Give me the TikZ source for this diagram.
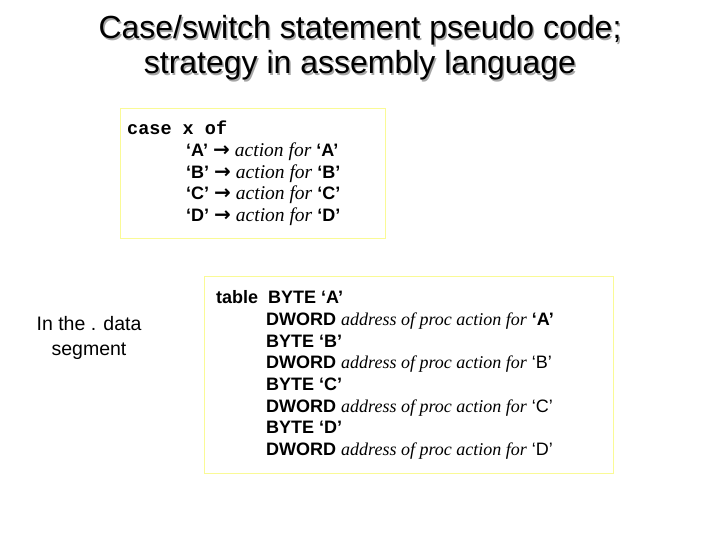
\documentclass[tikz,border=0pt]{standalone}
\usepackage{fontspec}
\setmainfont{Liberation Sans}
\newfontfamily\serifit{Liberation Serif}
\newfontfamily\monob{Liberation Mono}
\newfontfamily\djv{DejaVu Sans}
\definecolor{boxy}{RGB}{250,250,150}
\begin{document}
\begin{tikzpicture}[x=1pt,y=-1pt,
  ln/.style={anchor=base west,inner sep=0pt,font=\fontsize{18}{20}\selectfont},
  tt/.style={anchor=base,inner sep=0pt,font=\fontsize{32}{34}\selectfont},
  ybox/.style={draw=boxy,line width=1pt}]
\useasboundingbox (0,0) rectangle (720,540);
\newcommand{\ac}{{\serifit\itshape\fontsize{19.5}{20}\selectfont action for}}
\newcommand{\ad}{{\serifit\itshape address of proc action for}}
\newcommand{\arr}{{\djv\bfseries\fontsize{20}{20}\selectfont →}}
% title with shadow
\node[tt,text=black!35] (t1s) at (361.5,40.5) {Case/switch statement pseudo code;};
\node[tt,text=black!35] (t2s) at (361.5,75.5) {strategy in assembly language};
\node[tt] (t1) at (360,39) {Case/switch statement pseudo code;};
\node[tt] (t2) at (360,74) {strategy in assembly language};
% box 1
\node[ybox,minimum width=265,minimum height=130,anchor=north west] (b1) at (120,108) {};
\node[ln,font=\fontsize{18.5}{20}\selectfont] (c0) at (127,135) {\monob\bfseries case x of};
\node[ln] (c1) at (186,157) {\bfseries `A' \arr\ \mdseries\ac\ \bfseries `A'};
\node[ln] (c2) at (186,179) {\bfseries `B' \arr\ \mdseries\ac\ \bfseries `B'};
\node[ln] (c3) at (186,200) {\bfseries `C' \arr\ \mdseries\ac\ \bfseries `C'};
\node[ln] (c4) at (186,222) {\bfseries `D' \arr\ \mdseries\ac\ \bfseries `D'};
% left label
\node[anchor=base,inner sep=0pt,font=\fontsize{19.5}{20}\selectfont] (l1) at (89,330) {In the . data};
\node[anchor=base,inner sep=0pt,font=\fontsize{19.5}{20}\selectfont] (l2) at (89,355) {segment};
% box 2
\node[ybox,minimum width=409,minimum height=197,anchor=north west] (b2) at (204,276) {};
\node[ln] (d0) at (216,303) {\bfseries table\ \ BYTE `A'};
\node[ln] (d1) at (266,325) {\bfseries DWORD \mdseries\ad\ \bfseries `A'};
\node[ln] (d2) at (266,347) {\bfseries BYTE `B'};
\node[ln] (d3) at (266,368) {\bfseries DWORD \mdseries\ad\ `B'};
\node[ln] (d4) at (266,390) {\bfseries BYTE `C'};
\node[ln] (d5) at (266,412) {\bfseries DWORD \mdseries\ad\ `C'};
\node[ln] (d6) at (266,433) {\bfseries BYTE `D'};
\node[ln] (d7) at (266,455) {\bfseries DWORD \mdseries\ad\ `D'};
\end{tikzpicture}
\end{document}
